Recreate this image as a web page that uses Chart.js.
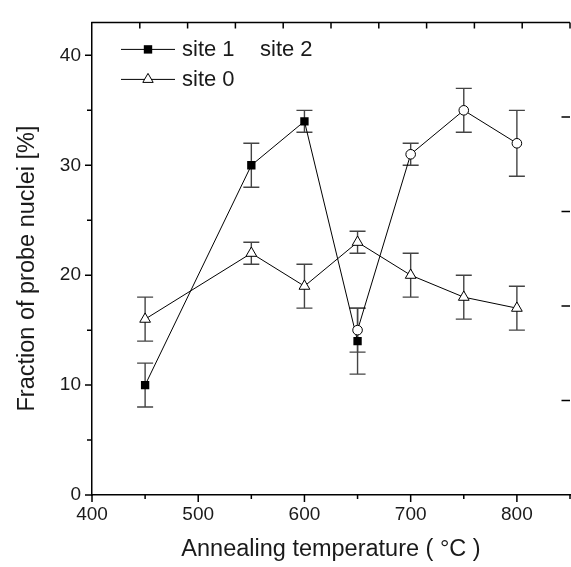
<!DOCTYPE html>
<html>
<head>
<meta charset="utf-8">
<title>Fraction of probe nuclei</title>
<script src="https://cdn.jsdelivr.net/npm/chart.js@4.4.1/dist/chart.umd.min.js"></script>
<style>
  html, body { margin: 0; padding: 0; background: #fff; overflow: hidden; }
</style>
</head>
<body>
<canvas id="fractionChart" width="578" height="567"></canvas>
<script>
// site 0 (open triangles)
var site0Temps = [450, 550, 600, 650, 700, 750, 800];
var site0Values = [16, 22, 19, 23, 20, 18, 17];
var site0Errors = [2, 1, 2, 1, 2, 2, 2];

// site 1 (filled squares)
var site1Temps = [450, 550, 600, 650];
var site1Values = [10, 30, 34, 14];
var site1Errors = [2, 2, 1, 3];

// site 2 (open circles)
var site2Temps = [650, 700, 750, 800];
var site2Values = [15, 31, 35, 32];
var site2Errors = [2, 1, 2, 3];

// axis labels
var xTickLabels = [400, 500, 600, 700, 800];
var yTickLabels = [0, 10, 20, 30, 40];

var textColor = '#1a1a1a';
var fontFamily = '"Liberation Sans", Arial, Helvetica, sans-serif';

function toPoints(xs, ys) {
  return xs.map(function (x, i) { return { x: x, y: ys[i] }; });
}

// vertical error bars with caps, drawn under the markers
var errorBarPlugin = {
  id: 'errorBars',
  beforeDatasetsDraw: function (chart) {
    var ctx = chart.ctx, xs = chart.scales.x, ys = chart.scales.y;
    ctx.save();
    ctx.strokeStyle = '#444';
    ctx.lineWidth = 1.4;
    chart.data.datasets.forEach(function (ds) {
      if (!ds.errors) return;
      ds.data.forEach(function (p, i) {
        var px = xs.getPixelForValue(p.x);
        var top = ys.getPixelForValue(p.y + ds.errors[i]);
        var bot = ys.getPixelForValue(p.y - ds.errors[i]);
        ctx.beginPath();
        ctx.moveTo(px, top); ctx.lineTo(px, bot);
        ctx.moveTo(px - 8, top); ctx.lineTo(px + 8, top);
        ctx.moveTo(px - 8, bot); ctx.lineTo(px + 8, bot);
        ctx.stroke();
      });
    });
    ctx.restore();
  }
};

// tick marks (major / minor) and the top frame line with its inward ticks
var framePlugin = {
  id: 'frame',
  afterDraw: function (chart) {
    var ctx = chart.ctx, a = chart.chartArea, s = chart.scales;
    ctx.save();
    ctx.strokeStyle = '#000';
    ctx.lineWidth = 1.5;
    ctx.beginPath();
    // top line
    ctx.moveTo(a.left - 0.75, a.top); ctx.lineTo(a.right, a.top);
    // bottom ticks, outward
    for (var v = 400; v <= 850; v += 50) {
      var px = s.x.getPixelForValue(v);
      var len = xTickLabels.indexOf(v) >= 0 ? 7 : 4;
      ctx.moveTo(px, a.bottom); ctx.lineTo(px, a.bottom + len);
    }
    // left ticks, outward
    for (var w = 0; w <= 40; w += 5) {
      var py = s.y.getPixelForValue(w);
      var l2 = yTickLabels.indexOf(w) >= 0 ? 7 : 5;
      ctx.moveTo(a.left, py); ctx.lineTo(a.left - l2, py);
    }
    // top ticks, inward
    for (var t = 1; t <= 10; t++) {
      var tx = s.xt.getPixelForValue(t);
      ctx.moveTo(tx, a.top); ctx.lineTo(tx, a.top + 6);
    }
    // right ticks, inward
    for (var r = 1; r <= 5; r++) {
      var ry = s.yr.getPixelForValue(r);
      ctx.moveTo(a.right, ry); ctx.lineTo(a.right - 8.5, ry);
    }
    ctx.stroke();
    ctx.restore();
  }
};

// legend inside the plot, line + marker + text
var legendPlugin = {
  id: 'insideLegend',
  afterDraw: function (chart) {
    var ctx = chart.ctx, a = chart.chartArea;
    var x0 = a.left + 29, rowY = [a.top + 27, a.top + 57];
    ctx.save();
    ctx.strokeStyle = '#000';
    ctx.lineWidth = 1;
    rowY.forEach(function (y) {
      ctx.beginPath();
      ctx.moveTo(x0, y); ctx.lineTo(x0 + 54, y);
      ctx.stroke();
    });
    var cx = x0 + 27;
    // square
    ctx.fillStyle = '#000';
    ctx.fillRect(cx - 4.2, rowY[0] - 4.2, 8.4, 8.4);
    // triangle
    ctx.beginPath();
    ctx.moveTo(cx, rowY[1] - 6);
    ctx.lineTo(cx + 5.2, rowY[1] + 3);
    ctx.lineTo(cx - 5.2, rowY[1] + 3);
    ctx.closePath();
    ctx.fillStyle = '#fff';
    ctx.fill();
    ctx.stroke();

    ctx.fillStyle = textColor;
    ctx.font = '22px ' + fontFamily;
    ctx.textBaseline = 'middle';
    ctx.fillText(chart.data.datasets[1].label, x0 + 61, rowY[0] + 1);
    ctx.fillText(chart.data.datasets[0].label, x0 + 139, rowY[0] + 1);
    ctx.fillText(chart.data.datasets[2].label, x0 + 61, rowY[1] + 1);
    ctx.restore();
  }
};

var fractionChart = new Chart(document.getElementById('fractionChart'), {
  type: 'scatter',
  data: {
    datasets: [
      {
        label: 'site 2',
        data: toPoints(site2Temps, site2Values),
        errors: site2Errors,
        showLine: true,
        borderColor: '#000',
        borderWidth: 1,
        pointStyle: 'circle',
        pointRadius: 4.8,
        pointBackgroundColor: '#fff',
        pointBorderColor: '#000',
        pointBorderWidth: 1
      },
      {
        label: 'site 1',
        data: toPoints(site1Temps, site1Values),
        errors: site1Errors,
        showLine: true,
        borderColor: '#000',
        borderWidth: 1,
        pointStyle: 'rect',
        pointRadius: 5.9,
        pointBackgroundColor: '#000',
        pointBorderColor: '#000',
        pointBorderWidth: 0
      },
      {
        label: 'site 0',
        data: toPoints(site0Temps, site0Values),
        errors: site0Errors,
        showLine: true,
        borderColor: '#000',
        borderWidth: 1,
        pointStyle: 'triangle',
        pointRadius: 6.2,
        pointBackgroundColor: '#fff',
        pointBorderColor: '#000',
        pointBorderWidth: 1
      }
    ]
  },
  options: {
    responsive: false,
    animation: false,
    events: [],
    layout: { padding: { left: 0, right: 2.5, top: 13, bottom: 0 } },
    plugins: {
      legend: { display: false },
      tooltip: { enabled: false }
    },
    scales: {
      x: {
        type: 'linear',
        position: 'bottom',
        min: 400,
        max: 850,
        afterFit: function (scale) { scale.height = 72; },
        grid: { display: false, drawTicks: false },
        border: { display: true, color: '#000', width: 1.5 },
        ticks: {
          stepSize: 50,
          autoSkip: false,
          maxRotation: 0,
          padding: 8,
          color: textColor,
          font: { family: fontFamily, size: 19 },
          callback: function (v) { return xTickLabels.indexOf(v) >= 0 ? String(v) : ''; }
        },
        title: {
          display: true,
          text: 'Annealing temperature ( °C )',
          color: textColor,
          font: { family: fontFamily, size: 23.5 },
          padding: { top: 0, bottom: 3 }
        }
      },
      y: {
        type: 'linear',
        position: 'left',
        min: 0,
        max: 43,
        afterFit: function (scale) { scale.width = 92; },
        grid: { display: false, drawTicks: false },
        border: { display: true, color: '#000', width: 1.5 },
        ticks: {
          stepSize: 5,
          autoSkip: false,
          padding: 11,
          color: textColor,
          font: { family: fontFamily, size: 19 },
          callback: function (v) { return yTickLabels.indexOf(v) >= 0 ? String(v) : ''; }
        },
        title: {
          display: true,
          text: 'Fraction of probe nuclei [%]\u00a0\u00a0\u00a0',
          color: textColor,
          font: { family: fontFamily, size: 23.5 },
          padding: { top: 13, bottom: 0 }
        }
      },
      // secondary frame axes (tick marks only)
      xt: { type: 'linear', position: 'top', min: 0, max: 10, display: false },
      yr: { type: 'linear', position: 'right', min: 0, max: 5, display: false }
    }
  },
  plugins: [errorBarPlugin, framePlugin, legendPlugin]
});
</script>
</body>
</html>
